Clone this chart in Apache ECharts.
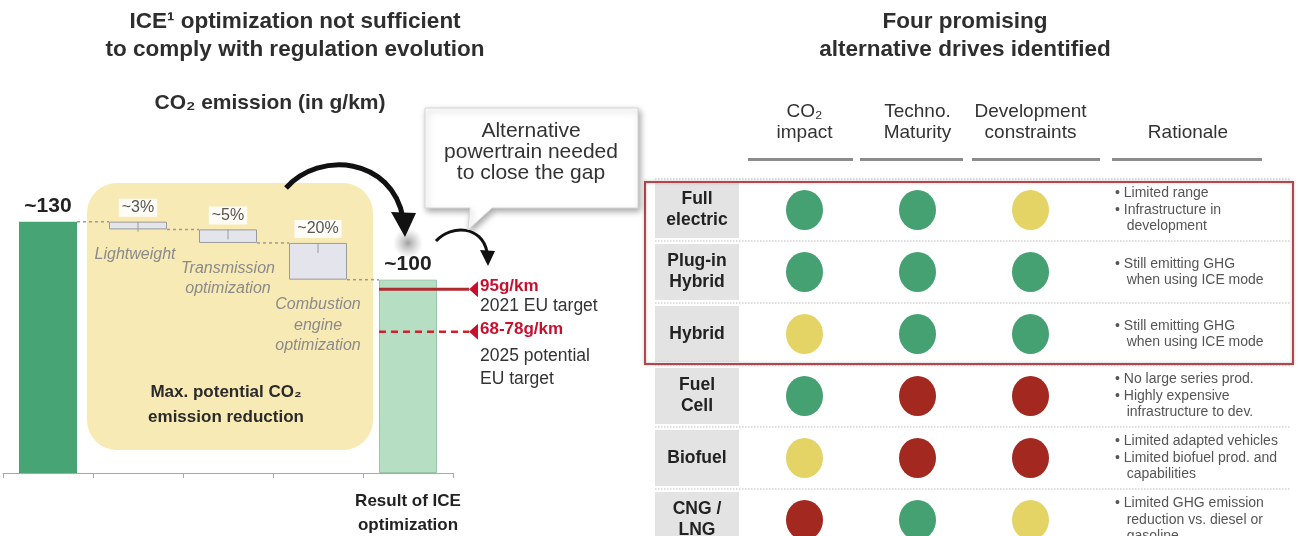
<!DOCTYPE html>
<html>
<head>
<meta charset="utf-8">
<script src="https://cdn.jsdelivr.net/npm/echarts@6/dist/echarts.min.js"></script>
<style>
html, body { margin: 0; padding: 0; background: #fff; }
#chart { width: 1298px; height: 536px; }
</style>
</head>
<body>
<div id="chart"></div>
<script>
// left part : CO2 waterfall (g/km)
var steps = ['Current ICE', 'Lightweight', 'Transmission\noptimization', 'Combustion\nengine\noptimization', 'Result of ICE\noptimization'];
var stepValues = [130, 4, 7, 19, 100];
var stepLabels = ['~130', '~3%', '~5%', '~20%', '~100'];
var targetValues = [95, 73];
var targetLabels = ['95g/km', '68-78g/km'];
var targetNotes = ['2021 EU target', '2025 potential\nEU target'];

// right part : alternative drives
var drives = ['Full\nelectric', 'Plug-in\nHybrid', 'Hybrid', 'Fuel\nCell', 'Biofuel', 'CNG /\nLNG'];
var criteria = ['CO₂\nimpact', 'Techno.\nMaturity', 'Development\nconstraints'];
var co2Impact = ['good', 'good', 'medium', 'good', 'medium', 'poor'];
var maturity = ['good', 'good', 'good', 'poor', 'poor', 'good'];
var constraints = ['medium', 'good', 'good', 'poor', 'poor', 'medium'];
var rationale = [
  '• Limited range\n• Infrastructure in\n   development',
  '• Still emitting GHG\n   when using ICE mode',
  '• Still emitting GHG\n   when using ICE mode',
  '• No large series prod.\n• Highly expensive\n   infrastructure to dev.',
  '• Limited adapted vehicles\n• Limited biofuel prod. and\n   capabilities',
  '• Limited GHG emission\n   reduction vs. diesel or\n   gasoline'
];

var FONT = '"Liberation Sans", Arial, sans-serif';
var ratingColor = { good: '#45a172', medium: '#e4d466', poor: '#a3281f' };

// waterfall helpers
var base = [];
var levels = [];
var level = 0;
stepValues.forEach(function (v, i) {
  if (i === 0) { level = v; base.push(0); }
  else if (i === stepValues.length - 1) { base.push(0); }
  else { level -= v; base.push(level); }
  if (i < stepValues.length - 1) levels.push([i, i === 0 ? v : level]);
});

var barStyles = stepValues.map(function (v, i) {
  if (i === 0) return { color: '#47a474' };
  if (i === stepValues.length - 1) return { color: '#b6dec3', borderColor: '#98c6a8', borderWidth: 1 };
  return { color: '#e4e5ec', borderColor: '#9a9a9a', borderWidth: 1 };
});

var ratings = [co2Impact, maturity, constraints];
var dots = [];
ratings.forEach(function (col, c) {
  col.forEach(function (r, row) { dots.push([c, row, r]); });
});

var chart = echarts.init(document.getElementById('chart'));

var option = {
  animation: false,
  textStyle: { fontFamily: FONT },
  grid: [
    { left: 3, top: 183, width: 450, height: 290, outerBoundsMode: 'none' },
    { left: 748, top: 179, width: 339, height: 372, outerBoundsMode: 'none' },
    { left: 655, top: 179, right: 8, height: 372, outerBoundsMode: 'none' }
  ],
  xAxis: [
    {
      type: 'category', gridIndex: 0, data: steps,
      axisLine: { lineStyle: { color: '#a8a8a8', width: 1 } },
      axisTick: { show: true, length: 5, lineStyle: { color: '#a8a8a8' } },
      axisLabel: {
        interval: 0, margin: 16, color: '#222', fontSize: 17, fontWeight: 'bold', lineHeight: 24,
        formatter: function (v, i) { return i === steps.length - 1 ? v : ''; }
      },
      splitLine: { show: false }
    },
    {
      type: 'category', gridIndex: 1, data: criteria, position: 'top',
      axisLine: { show: false }, axisTick: { show: false }, splitLine: { show: false },
      axisLabel: { interval: 0, margin: 36, color: '#333', fontSize: 19, lineHeight: 21 }
    },
    { type: 'value', gridIndex: 2, show: false, min: 0, max: 1 }
  ],
  yAxis: [
    { type: 'value', gridIndex: 0, min: 0, max: 150, show: false },
    {
      type: 'category', gridIndex: 1, data: drives, inverse: true,
      axisLine: { show: false }, axisTick: { show: false }, splitLine: { show: false },
      axisLabel: {
        interval: 0, margin: 51, color: '#222', fontSize: 17.5, fontWeight: 'bold', lineHeight: 21,
        backgroundColor: '#e3e3e3', width: 84, height: 56, align: 'center', verticalAlign: 'middle'
      }
    },
    {
      type: 'category', gridIndex: 2, data: drives, inverse: true,
      axisLine: { show: false }, axisTick: { show: false },
      splitLine: { show: true, interval: 0, lineStyle: { color: '#d2d2d2', type: 'dotted', width: 1.5 } },
      axisLabel: {
        inside: true, interval: 0, margin: 460, align: 'left', color: '#555', fontSize: 14, lineHeight: 16.5,
        padding: [10, 0, 0, 0],
        formatter: function (v, i) { return rationale[i]; }
      }
    }
  ],
  graphic: [
    { type: 'rect', z: 0, shape: { x: 87, y: 183, width: 286, height: 267, r: 30 }, style: { fill: '#f8eab5' } },
    { type: 'text', x: 295, y: 36, style: { text: 'ICE¹ optimization not sufficient\nto comply with regulation evolution', align: 'center', verticalAlign: 'middle', font: 'bold 22.5px ' + FONT, lineHeight: 28, fill: '#2e2e2e' } },
    { type: 'text', x: 270, y: 103, style: { text: 'CO₂ emission (in g/km)', align: 'center', verticalAlign: 'middle', font: 'bold 21px ' + FONT, fill: '#2e2e2e' } },
    { type: 'text', x: 965, y: 36, style: { text: 'Four promising\nalternative drives identified', align: 'center', verticalAlign: 'middle', font: 'bold 22.5px ' + FONT, lineHeight: 28, fill: '#2e2e2e' } },
    { type: 'text', x: 1188, y: 133, style: { text: 'Rationale', align: 'center', verticalAlign: 'middle', font: '19px ' + FONT, fill: '#333' } },
    { type: 'text', z: 5, x: 226, y: 405, style: { text: 'Max. potential CO₂\nemission reduction', align: 'center', verticalAlign: 'middle', font: 'bold 17px ' + FONT, lineHeight: 25, fill: '#2a2a2a' } },
    { type: 'rect', shape: { x: 748, y: 158, width: 105, height: 3 }, style: { fill: '#8c8c8c' } },
    { type: 'rect', shape: { x: 860, y: 158, width: 103, height: 3 }, style: { fill: '#8c8c8c' } },
    { type: 'rect', shape: { x: 972, y: 158, width: 128, height: 3 }, style: { fill: '#8c8c8c' } },
    { type: 'rect', shape: { x: 1112, y: 158, width: 150, height: 3 }, style: { fill: '#8c8c8c' } },
    { type: 'rect', z: 20, shape: { x: 645, y: 182, width: 648, height: 182 }, style: { fill: null, stroke: '#b5454c', lineWidth: 2, shadowBlur: 3, shadowColor: 'rgba(0,0,0,0.25)' } },
    // callout
    { type: 'polygon', z: 30, shape: { points: [[425, 108], [638, 108], [638, 208], [492, 208], [468, 230], [470, 208], [425, 208]] },
      style: { fill: '#fff', stroke: '#d6d6d6', lineWidth: 1, shadowBlur: 6, shadowOffsetX: 2, shadowOffsetY: 3, shadowColor: 'rgba(0,0,0,0.35)' } },
    { type: 'text', z: 31, x: 531, y: 152, style: { text: 'Alternative\npowertrain needed\nto close the gap', align: 'center', verticalAlign: 'middle', font: '21px ' + FONT, lineHeight: 21, fill: '#333' } },
    // arrows
    { type: 'circle', z: 25, shape: { cx: 408, cy: 243, r: 15 },
      style: { fill: new echarts.graphic.RadialGradient(0.5, 0.5, 0.5, [{ offset: 0, color: 'rgba(120,120,120,0.7)' }, { offset: 1, color: 'rgba(160,160,160,0)' }]) } },
    { type: 'bezierCurve', z: 26, shape: { x1: 286, y1: 188, cpx1: 320, cpy1: 150, cpx2: 392, cpy2: 158, x2: 403, y2: 218 }, style: { stroke: '#111', lineWidth: 5, fill: null } },
    { type: 'polygon', z: 26, shape: { points: [[391, 212], [416, 213], [405, 237]] }, style: { fill: '#111' } },
    { type: 'bezierCurve', z: 26, shape: { x1: 436, y1: 241, cpx1: 452, cpy1: 224, cpx2: 482, cpy2: 226, x2: 487, y2: 252 }, style: { stroke: '#111', lineWidth: 3, fill: null } },
    { type: 'polygon', z: 26, shape: { points: [[480, 250], [495, 251], [488, 266]] }, style: { fill: '#111' } }
  ],
  series: [
    {
      name: 'base', type: 'bar', stack: 'wf', xAxisIndex: 0, yAxisIndex: 0, barWidth: 58,
      itemStyle: { color: 'rgba(0,0,0,0)' },
      data: base.map(function (v, i) {
        var off = [[0, 0], [-3, 0], [0, 0], [0, 0], [0, 0]][i];
        return { value: v, label: { offset: off } };
      }),
      label: {
        show: true, position: 'insideTop', distance: 15, color: '#8a8a8a', fontSize: 16, fontStyle: 'italic', lineHeight: 20.5,
        formatter: function (p) { return (p.dataIndex > 0 && p.dataIndex < steps.length - 1) ? steps[p.dataIndex] : ''; }
      }
    },
    {
      name: 'value', type: 'bar', stack: 'wf', xAxisIndex: 0, yAxisIndex: 0, barWidth: 58,
      data: stepValues.map(function (v, i) { return { value: v, itemStyle: barStyles[i] }; }),
      label: {
        show: true, position: 'top', distance: 5,
        formatter: function (p) {
          var i = p.dataIndex;
          return (i === 0 || i === stepValues.length - 1) ? '{big|' + stepLabels[i] + '}' : '{pct|' + stepLabels[i] + '}';
        },
        rich: {
          big: { fontSize: 21, fontWeight: 'bold', color: '#222' },
          pct: { fontSize: 16, color: '#555', backgroundColor: 'rgba(255,255,255,0.85)', padding: [1, 3] }
        }
      }
    },
    {
      name: 'connectors', type: 'custom', xAxisIndex: 0, yAxisIndex: 0, clip: false, z: 3,
      data: levels,
      renderItem: function (params, api) {
        var p0 = api.coord([api.value(0), api.value(1)]);
        var p1 = api.coord([api.value(0) + 1, api.value(1)]);
        var children = [{
          type: 'line',
          shape: { x1: p0[0] + 29, y1: p0[1], x2: p1[0] - 29, y2: p1[1] },
          style: { stroke: '#9a9a9a', lineWidth: 1.5, lineDash: [3, 3] }
        }];
        if (api.value(0) + 1 < steps.length - 1) {
          children.push({ type: 'line', shape: { x1: p1[0], y1: p1[1], x2: p1[0], y2: p1[1] + 10 }, style: { stroke: '#9a9a9a', lineWidth: 1 } });
        }
        return { type: 'group', children: children };
      }
    },
    {
      name: 'targets', type: 'custom', xAxisIndex: 0, yAxisIndex: 0, clip: false, z: 5,
      data: targetValues.map(function (v, i) { return [steps.length - 1, v, i]; }),
      renderItem: function (params, api) {
        var i = api.value(2);
        var p = api.coord([api.value(0), api.value(1)]);
        var x0 = p[0] - 29, x1 = p[0] + 61, y = p[1];
        var noteGap = [5, 13][i];
        return {
          type: 'group',
          children: [
            { type: 'line', shape: { x1: x0, y1: y, x2: x1, y2: y },
              style: i === 0 ? { stroke: '#b02a30', lineWidth: 3 } : { stroke: '#d1202c', lineWidth: 2.5, lineDash: [7, 5] } },
            { type: 'polygon', shape: { points: [[x1, y], [x1 + 9, y - 8], [x1 + 9, y + 8]] }, style: { fill: '#c8102e' } },
            { type: 'text', x: x1 + 11, y: y - 3, style: { text: targetLabels[i], font: 'bold 17px ' + FONT, fill: '#c8102e', align: 'left', verticalAlign: 'middle' } },
            { type: 'text', x: x1 + 11, y: y + noteGap, style: { text: targetNotes[i], font: '17.5px ' + FONT, lineHeight: 23, fill: '#333', align: 'left', verticalAlign: 'top' } }
          ]
        };
      }
    },
    {
      name: 'ratings', type: 'scatter', xAxisIndex: 1, yAxisIndex: 1, symbolSize: [37, 40], z: 10,
      data: dots,
      itemStyle: { opacity: 1, color: function (p) { return ratingColor[p.data[2]]; } }
    }
  ]
};

chart.setOption(option);
</script>
</body>
</html>
